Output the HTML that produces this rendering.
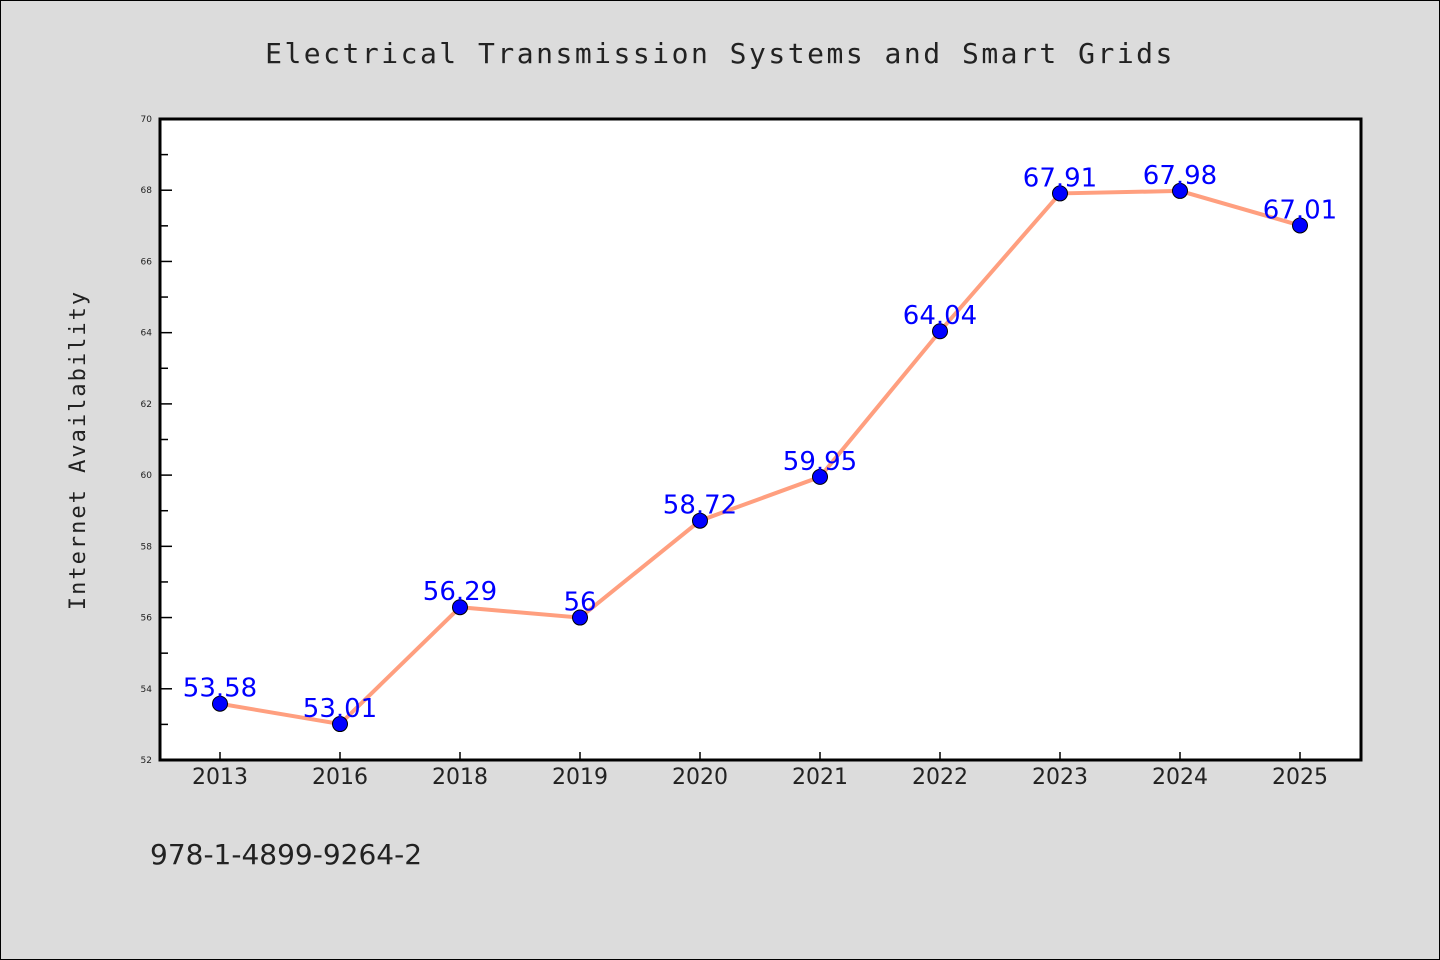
<!DOCTYPE html>
<html><head><meta charset="utf-8"><style>
body{margin:0;background:#dcdcdc;}
svg{display:block;font-family:"DejaVu Sans","Liberation Sans",sans-serif;}
</style></head><body>
<svg width="1440" height="960">
<rect x="0.5" y="0.5" width="1439" height="959" fill="#dcdcdc" stroke="#000"/>
<text x="720" y="63" text-anchor="middle" font-size="28" letter-spacing="2.5" fill="#222" font-family="DejaVu Sans Mono, Liberation Mono, monospace">Electrical Transmission Systems and Smart Grids</text>
<text transform="translate(85,450) rotate(-90)" text-anchor="middle" font-size="22" letter-spacing="2" fill="#222" font-family="DejaVu Sans Mono, Liberation Mono, monospace">Internet Availability</text>
<text x="150" y="864" font-size="28" fill="#222">978-1-4899-9264-2</text>
<rect x="160" y="119" width="1201" height="641" fill="#fff"/>
<g id="axes"></g>
<g id="marks"></g>
<rect x="160" y="119" width="1201" height="641" fill="none" stroke="#000" stroke-width="3"/>
</svg>
<script>
const categories=["2013","2016","2018","2019","2020","2021","2022","2023","2024","2025"];
const values=[53.58,53.01,56.29,56,58.72,59.95,64.04,67.91,67.98,67.01];
const labels=["53.58","53.01","56.29","56","58.72","59.95","64.04","67.91","67.98","67.01"];
const yTicks=[52,54,56,58,60,62,64,66,68,70];
const yMin=52,yMax=70,L=160,R=1360,T=119,B=760;
const NS="http://www.w3.org/2000/svg";
const x=i=>L+(R-L)/categories.length*(i+0.5);
const y=v=>B-(v-yMin)/(yMax-yMin)*(B-T);
function mk(t,a,p){const e=document.createElementNS(NS,t);for(const k in a)e.setAttribute(k,a[k]);p.appendChild(e);return e;}
const ax=document.getElementById('axes'),mg=document.getElementById('marks');
yTicks.forEach(v=>{
 const t=mk('line',{x1:L,x2:L+12,y1:y(v),y2:y(v),stroke:'#000','stroke-width':1.5},ax);
 
 
 const l=mk('text',{x:152,y:y(v)+3,'text-anchor':'end','font-size':9,fill:'#222'},ax);
 l.textContent=v;
 
 
 if(v<yMax){const m=mk('line',{x1:L,x2:L+8,y1:y(v+1),y2:y(v+1),stroke:'#000','stroke-width':1.5},ax);
 
 }
});
categories.forEach((c,i)=>{
 const t=mk('line',{x1:x(i),x2:x(i),y1:B,y2:B-8,stroke:'#000','stroke-width':1.5},ax);
 
 
 const l=mk('text',{x:x(i),y:784,'text-anchor':'middle','font-size':22,fill:'#222'},ax);
 l.textContent=c;
 
 
});
const line=mk('polyline',{points:values.map((v,i)=>x(i)+','+y(v)).join(' '),fill:'none',stroke:'#ff9f7f','stroke-width':4},mg);


values.forEach((v,i)=>{
 const c=mk('circle',{cx:x(i),cy:y(v),r:7.5,fill:'#0000ff',stroke:'#000','stroke-width':1},mg);
 
 
});
values.forEach((v,i)=>{
 const l=mk('text',{x:x(i),y:y(v)-7,'text-anchor':'middle','font-size':26,fill:'#0000ff'},mg);
 l.textContent=labels[i];
 
 
});
</script>
</body></html>
